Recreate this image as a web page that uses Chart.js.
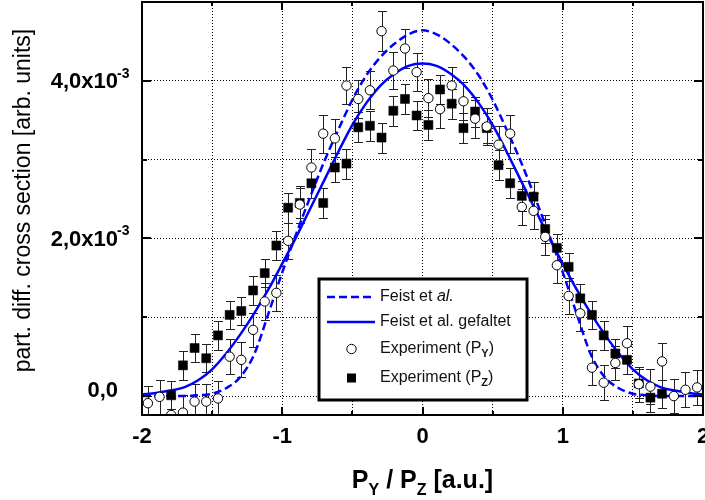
<!DOCTYPE html>
<html>
<head>
<meta charset="utf-8">
<script src="https://cdn.jsdelivr.net/npm/chart.js@4.4.1/dist/chart.umd.min.js"></script>
<style>
  body { margin: 0; background: #fff; }
  #wrap { width: 705px; height: 500px; }
</style>
</head>
<body>
<div id="wrap"><canvas id="chart" width="705" height="500"></canvas></div>
<script>
// Impulswerte der Messpunkte (a.u.)
const pMess = [-1.958, -1.875, -1.792, -1.708, -1.625, -1.542, -1.458, -1.375, -1.292, -1.208, -1.125, -1.042,
               -0.958, -0.875, -0.792, -0.708, -0.625, -0.542, -0.458, -0.375, -0.292, -0.208, -0.125, -0.042,
                0.042,  0.125,  0.208,  0.292,  0.375,  0.458,  0.542,  0.625,  0.708,  0.792,  0.875,  0.958,
                1.042,  1.125,  1.208,  1.292,  1.375,  1.458,  1.542,  1.625,  1.708,  1.792,  1.875,  1.958];

// Experiment P_Y (Einheit 1e-3)
const wqPY = [-0.09, -0.01, -0.24, -0.21, -0.07, -0.07, -0.03, 0.50, 0.46, 0.84, 1.20, 1.31,
              1.97, 2.43, 2.90, 3.33, 3.27, 3.94, 3.77, 3.88, 4.63, 4.13, 4.41, 4.11,
              3.78, 3.64, 3.94, 3.74, 3.52, 3.42, 3.19, 3.33, 2.40, 2.35, 2.02, 1.66,
              1.27, 1.05, 0.36, 0.17, 0.42, 0.67, 0.15, 0.12, 0.44, 0.00, 0.08, 0.11];
const fehlerPY = [0.22, 0.22, 0.22, 0.22, 0.22, 0.22, 0.22, 0.22, 0.22, 0.22, 0.23, 0.23,
                  0.23, 0.23, 0.23, 0.24, 0.24, 0.24, 0.24, 0.24, 0.25, 0.24, 0.25, 0.24,
                  0.24, 0.24, 0.24, 0.24, 0.24, 0.24, 0.24, 0.24, 0.23, 0.23, 0.23, 0.23,
                  0.23, 0.23, 0.22, 0.22, 0.22, 0.22, 0.22, 0.22, 0.23, 0.22, 0.22, 0.22];

// Experiment P_Z (Einheit 1e-3), keine Werte an den Raendern
const wqPZ = [null, null, 0.01, 0.39, 0.61, 0.48, 0.77, 1.03, 1.08, 1.34, 1.56, 1.91,
              2.39, 2.45, 2.70, 2.45, 2.90, 2.95, 3.41, 3.43, 3.28, 3.62, 3.77, 3.56,
              3.44, 3.89, 3.71, 3.40, 3.61, 3.40, 2.93, 2.70, 2.54, 2.53, 2.12, 1.88,
              1.64, 1.24, 1.03, 0.77, 0.54, 0.46, 0.16, -0.02, 0.03, null, null, null];
const fehlerPZ = [0, 0, 0.18, 0.18, 0.18, 0.18, 0.18, 0.18, 0.18, 0.18, 0.18, 0.18,
                  0.19, 0.19, 0.19, 0.19, 0.19, 0.19, 0.19, 0.19, 0.19, 0.19, 0.19, 0.19,
                  0.19, 0.19, 0.19, 0.19, 0.19, 0.19, 0.19, 0.19, 0.19, 0.19, 0.18, 0.18,
                  0.18, 0.18, 0.18, 0.18, 0.18, 0.18, 0.18, 0.18, 0.18, 0, 0, 0];

// Theoriekurven
const pTheorie = [-2.0, -1.9, -1.8, -1.7, -1.6, -1.5, -1.4, -1.3, -1.2, -1.1, -1.0, -0.9, -0.8, -0.7,
                  -0.6, -0.5, -0.4, -0.3, -0.2, -0.1, 0.0, 0.1, 0.2, 0.3, 0.4, 0.5, 0.6, 0.7,
                  0.8, 0.9, 1.0, 1.1, 1.2, 1.3, 1.4, 1.5, 1.6, 1.7, 1.8, 1.9, 2.0];
const feist = [0.00, 0.00, 0.00, 0.00, 0.01, 0.03, 0.10, 0.24, 0.53, 1.04, 1.57, 2.06, 2.53, 2.98,
               3.38, 3.76, 4.07, 4.30, 4.47, 4.59, 4.64, 4.59, 4.47, 4.30, 4.07, 3.76, 3.38, 2.98,
               2.53, 2.06, 1.57, 1.04, 0.53, 0.24, 0.10, 0.03, 0.01, 0.00, 0.00, 0.00, 0.00];
const feistGefaltet = [0.02, 0.04, 0.07, 0.11, 0.20, 0.34, 0.54, 0.78, 1.05, 1.35, 1.68, 2.02, 2.38, 2.74,
                       3.10, 3.44, 3.72, 3.94, 4.09, 4.19, 4.22, 4.19, 4.09, 3.94, 3.72, 3.44, 3.10, 2.74,
                       2.38, 2.02, 1.68, 1.35, 1.05, 0.78, 0.54, 0.34, 0.20, 0.11, 0.07, 0.04, 0.02];

const xTickWerte = [-2, -1, 0, 1, 2];
const xTickText = ['-2', '-1', '0', '1', '2'];
const yTickWerte = [0, 2, 4];
const yTickText = ['0,0', '2,0x10', '4,0x10'];
const yTickExp = ['', '-3', '-3'];

const FONT = "'Liberation Sans', Arial, sans-serif";
const BLAU = '#0000ff';

function punkte(xs, ys) {
    return xs.map((x, i) => ({ x: x, y: ys[i] }));
}

// Text aus Stuecken mit eigenem Font und Versatz (Hoch-/Tiefstellung)
function textStuecke(ctx, stuecke, x, y, ausrichtung) {
    let breite = 0;
    stuecke.forEach(s => { ctx.font = s.font; breite += ctx.measureText(s.t).width; });
    let cx = x;
    if (ausrichtung === 'center') cx = x - breite / 2;
    if (ausrichtung === 'right') cx = x - breite;
    ctx.textAlign = 'left';
    stuecke.forEach(s => {
        ctx.font = s.font;
        ctx.fillText(s.t, cx, y + (s.dy || 0));
        cx += ctx.measureText(s.t).width;
    });
}

const beschriftung = {
    id: 'beschriftung',
    beforeDatasetsDraw(chart) {
        // Fehlerbalken
        const { ctx, chartArea: a, scales: { x, y } } = chart;
        ctx.save();
        ctx.beginPath();
        ctx.rect(a.left, a.top, a.right - a.left, a.bottom - a.top);
        ctx.clip();
        ctx.strokeStyle = '#222';
        ctx.lineWidth = 1;
        [[wqPY, fehlerPY], [wqPZ, fehlerPZ]].forEach(([werte, fehler]) => {
            werte.forEach((v, i) => {
                if (v === null) return;
                const px = Math.round(x.getPixelForValue(pMess[i])) + 0.5;
                const y1 = Math.round(y.getPixelForValue(v + fehler[i])) + 0.5;
                const y2 = Math.round(y.getPixelForValue(v - fehler[i])) + 0.5;
                ctx.beginPath();
                ctx.moveTo(px, y1); ctx.lineTo(px, y2);
                ctx.moveTo(px - 4.5, y1); ctx.lineTo(px + 4.5, y1);
                ctx.moveTo(px - 4.5, y2); ctx.lineTo(px + 4.5, y2);
                ctx.stroke();
            });
        });
        ctx.restore();
    },
    afterDraw(chart) {
        const { ctx, chartArea: a, scales: { x, y } } = chart;
        ctx.save();

        // Legende
        const lx = 319, ly = 279, lw = 208, lh = 121;
        ctx.fillStyle = '#fff';
        ctx.fillRect(lx, ly, lw, lh);
        ctx.lineWidth = 3;
        ctx.strokeStyle = '#000';
        ctx.strokeRect(lx, ly, lw, lh);

        const reihen = [297, 322, 349, 378];
        ctx.lineWidth = 2.5;
        ctx.strokeStyle = BLAU;
        ctx.setLineDash([8, 4]);
        ctx.beginPath(); ctx.moveTo(327, reihen[0]); ctx.lineTo(373, reihen[0]); ctx.stroke();
        ctx.setLineDash([]);
        ctx.beginPath(); ctx.moveTo(327, reihen[1]); ctx.lineTo(375, reihen[1]); ctx.stroke();

        ctx.lineWidth = 1;
        ctx.strokeStyle = '#000';
        ctx.fillStyle = '#fff';
        ctx.beginPath(); ctx.arc(351.5, reihen[2], 4.7, 0, Math.PI * 2); ctx.fill(); ctx.stroke();
        ctx.fillStyle = '#000';
        ctx.fillRect(347, reihen[3] - 4.5, 9, 9);

        const lf = '16px ' + FONT;
        const lfi = 'italic 16px ' + FONT;
        const lsub = 'bold 11px ' + FONT;
        ctx.fillStyle = '#111';
        ctx.textBaseline = 'middle';
        textStuecke(ctx, [{ t: 'Feist et ', font: lf }, { t: 'al.', font: lfi }], 380, reihen[0], 'left');
        textStuecke(ctx, [{ t: 'Feist et al. gefaltet', font: lf }], 380, reihen[1], 'left');
        textStuecke(ctx, [{ t: 'Experiment (P', font: lf }, { t: 'Y', font: lsub, dy: 5 }, { t: ')', font: lf }], 380, reihen[2], 'left');
        textStuecke(ctx, [{ t: 'Experiment (P', font: lf }, { t: 'Z', font: lsub, dy: 5 }, { t: ')', font: lf }], 380, reihen[3], 'left');

        // Rahmen
        ctx.strokeStyle = '#000';
        ctx.lineWidth = 2;
        ctx.strokeRect(a.left, a.top, a.right - a.left, a.bottom - a.top);

        // Teilstriche nach innen, auf allen vier Seiten
        ctx.beginPath();
        x.ticks.forEach(t => {
            if (t.value <= x.min || t.value >= x.max) return;
            const px = Math.round(x.getPixelForValue(t.value));
            const len = Number.isInteger(t.value) ? 8 : 4;
            ctx.moveTo(px, a.bottom); ctx.lineTo(px, a.bottom - len);
            ctx.moveTo(px, a.top); ctx.lineTo(px, a.top + len);
        });
        y.ticks.forEach(t => {
            if (t.value <= y.min || t.value >= y.max) return;
            const py = Math.round(y.getPixelForValue(t.value));
            const len = Math.round(t.value) % 2 === 0 ? 9 : 5;
            ctx.moveTo(a.left, py); ctx.lineTo(a.left + len, py);
            ctx.moveTo(a.right, py); ctx.lineTo(a.right - len, py);
        });
        ctx.stroke();

        // Achsenbeschriftung
        ctx.fillStyle = '#000';
        ctx.textBaseline = 'middle';
        const tf = 'bold 22px ' + FONT;
        xTickWerte.forEach((v, i) => {
            textStuecke(ctx, [{ t: xTickText[i], font: tf }], x.getPixelForValue(v), a.bottom + 22, 'center');
        });
        yTickWerte.forEach((v, i) => {
            const py = y.getPixelForValue(v) + (v === 0 ? -5 : 1);
            textStuecke(ctx, [{ t: yTickText[i], font: tf }], 118, py, 'right');
            if (yTickExp[i]) {
                textStuecke(ctx, [{ t: yTickExp[i], font: 'bold 14px ' + FONT }], 117, py - 8, 'left');
            }
        });

        ctx.textBaseline = 'alphabetic';
        const gf = 'bold 25px ' + FONT;
        const gs = 'bold 16px ' + FONT;
        textStuecke(ctx, [
            { t: 'P', font: gf }, { t: 'Y', font: gs, dy: 7 },
            { t: ' / P', font: gf }, { t: 'Z', font: gs, dy: 7 },
            { t: ' [a.u.]', font: gf }
        ], (a.left + a.right) / 2, 488, 'center');

        ctx.save();
        ctx.translate(24, (a.top + a.bottom) / 2 - 8);
        ctx.rotate(-Math.PI / 2);
        ctx.textBaseline = 'middle';
        textStuecke(ctx, [{ t: 'part. diff. cross section [arb. units]', font: '23px ' + FONT }], 0, 0, 'center');
        ctx.restore();

        ctx.restore();
    }
};

const ctx = document.getElementById('chart').getContext('2d');
new Chart(ctx, {
    type: 'scatter',
    data: {
        datasets: [
            {
                label: 'Experiment (P_Y)',
                data: punkte(pMess, wqPY),
                pointStyle: 'circle',
                pointRadius: 4.7,
                backgroundColor: '#fff',
                borderColor: '#000',
                borderWidth: 1,
                clip: 0,
                order: 0
            },
            {
                label: 'Experiment (P_Z)',
                data: punkte(pMess, wqPZ).filter(p => p.y !== null),
                pointStyle: 'rect',
                pointRadius: 6.4,
                backgroundColor: '#000',
                borderColor: '#000',
                borderWidth: 0.5,
                clip: 0,
                order: 1
            },
            {
                label: 'Feist et al. gefaltet',
                data: punkte(pTheorie, feistGefaltet),
                showLine: true,
                pointRadius: 0,
                borderColor: BLAU,
                borderWidth: 2.5,
                cubicInterpolationMode: 'monotone',
                clip: 0,
                order: 2
            },
            {
                label: 'Feist et al.',
                data: punkte(pTheorie, feist),
                showLine: true,
                pointRadius: 0,
                borderColor: BLAU,
                borderWidth: 2.5,
                borderDash: [8, 4],
                cubicInterpolationMode: 'monotone',
                clip: 0,
                order: 3
            }
        ]
    },
    options: {
        responsive: false,
        animation: false,
        layout: { autoPadding: false, padding: { left: 142, right: 2, top: 2, bottom: 85 } },
        plugins: { legend: { display: false }, tooltip: { enabled: false } },
        scales: {
            x: {
                type: 'linear',
                min: -2,
                max: 2,
                ticks: { display: false, stepSize: 0.5 },
                grid: { color: '#000', lineWidth: 1, drawTicks: false },
                border: { display: false, dash: [1, 2] }
            },
            y: {
                type: 'linear',
                min: -0.24,
                max: 5.0,
                ticks: { display: false, stepSize: 1 },
                grid: { color: '#000', lineWidth: 1, drawTicks: false },
                border: { display: false, dash: [1, 2] }
            }
        }
    },
    plugins: [beschriftung]
});
</script>
</body>
</html>
